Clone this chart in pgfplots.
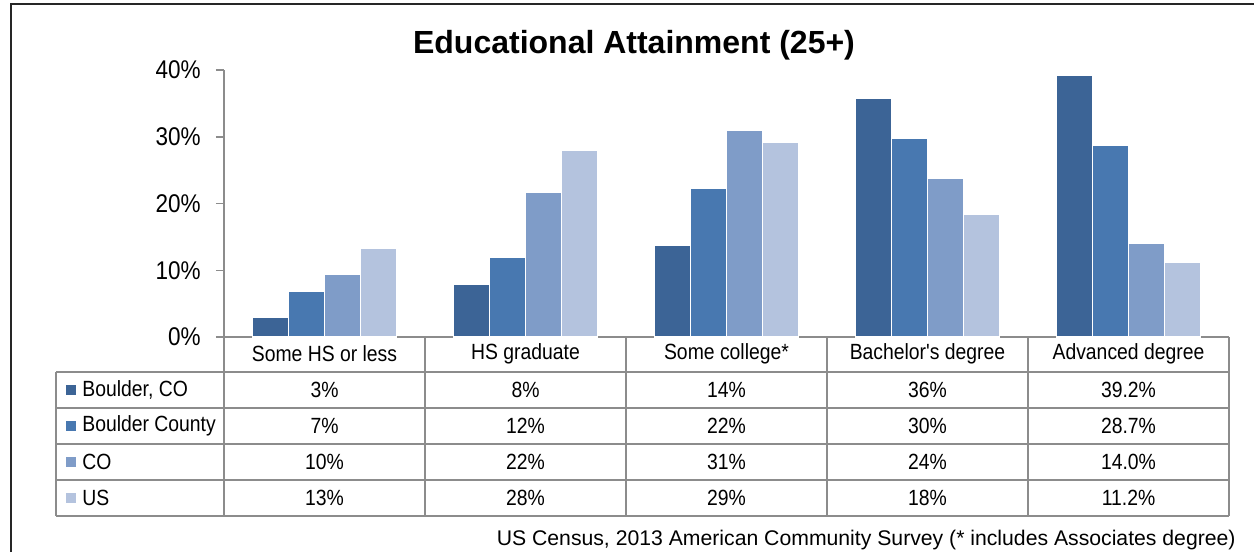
\documentclass[border=0pt]{standalone}
\usepackage{fontspec}
\setmainfont{Liberation Sans}
\newfontfamily\narrowfont{Liberation Sans}[FakeStretch=0.88]
\usepackage{pgfplots}
\usepackage{pgfplotstable}
\pgfplotsset{compat=1.18}

\definecolor{cA}{RGB}{60,100,150}
\definecolor{cB}{RGB}{72,120,176}
\definecolor{cC}{RGB}{127,156,200}
\definecolor{cD}{RGB}{180,195,222}
\definecolor{tblgray}{RGB}{140,140,140}

% bar heights (percent)
\pgfplotstableread{
cat boulder county co us
0 2.9 6.9 9.4 13.3
1 7.9 12.0 21.6 27.9
2 13.7 22.2 31.0 29.1
3 35.7 29.7 23.7 18.3
4 39.2 28.7 14.0 11.2
}\edu

\begin{document}
\begin{tikzpicture}[x=0.5pt,y=0.5pt]
\useasboundingbox (0,0) rectangle (1254,552);
% frame (only left and top visible)
\draw[line width=1.3pt, black!85] (11,0) -- (11,548) -- (1254,548);

\node[font=\bfseries\fontsize{16}{18}\selectfont] at (634,507) {Educational Attainment (25+)};

\begin{axis}[
  at={(112pt,107.5pt)}, anchor=south west,
  scale only axis, width=502.5pt, height=133.5pt,
  xmin=-0.5, xmax=4.5, ymin=0, ymax=40,
  axis lines=left,
  axis line style={-, draw=tblgray, line width=0.75pt},
  xtick=\empty,
  ytick={0,10,20,30,40},
  yticklabels={0\%,10\%,20\%,30\%,40\%},
  tick align=outside,
  major tick length=4pt,
  tick style={draw=tblgray, line width=0.75pt},
  yticklabel style={font=\narrowfont\fontsize{12.8}{14}\selectfont, inner sep=0pt, xshift=-7.5pt},
  ybar=0pt, bar width=0.18,
  every axis plot/.append style={draw=white, line width=0.6pt},
  clip=false,
]
\addplot[fill=cA] table[x=cat, y=boulder] {\edu};
\addplot[fill=cB] table[x=cat, y=county] {\edu};
\addplot[fill=cC] table[x=cat, y=co] {\edu};
\addplot[fill=cD] table[x=cat, y=us] {\edu};
\end{axis}

% data table below the bars
\begin{scope}[tblgray, line width=0.75pt]
\foreach \yy in {180,144,108,72,36} \draw (56,\yy) -- (1229,\yy);
\draw (56,180) -- (56,36);
\foreach \xx in {224,425,626,827,1028,1229} \draw (\xx,215) -- (\xx,36);
\end{scope}

\begin{scope}[font=\narrowfont\fontsize{11}{13}\selectfont]
\foreach \cx/\lab in {324.5/Some HS or less, 525.5/HS graduate, 726.5/Some college*, 927.5/Bachelor's degree, 1128.5/Advanced degree}
  \node at (\cx,198.5) {\lab};
\foreach \yy/\col/\lab in {162/cA/{Boulder, CO}, 126/cB/Boulder County, 90/cC/CO, 54/cD/US} {
  \fill[\col] (66,\yy-5) rectangle (76,\yy+5);
  \node[anchor=west, inner sep=0pt] at (82,\yy) {\lab};
}
\foreach \cx/\a/\b/\c/\d in {324.5/3/7/10/13, 525.5/8/12/22/28, 726.5/14/22/31/29, 927.5/36/30/24/18, 1128.5/39.2/28.7/14.0/11.2} {
  \node at (\cx,162) {\a\%};
  \node at (\cx,126) {\b\%};
  \node at (\cx,90) {\c\%};
  \node at (\cx,54) {\d\%};
}
\end{scope}
\node[anchor=east, inner sep=0pt, font=\fontsize{10.6}{12}\selectfont] at (1236,12) {US Census, 2013 American Community Survey (* includes Associates degree)};
\end{tikzpicture}
\end{document}
